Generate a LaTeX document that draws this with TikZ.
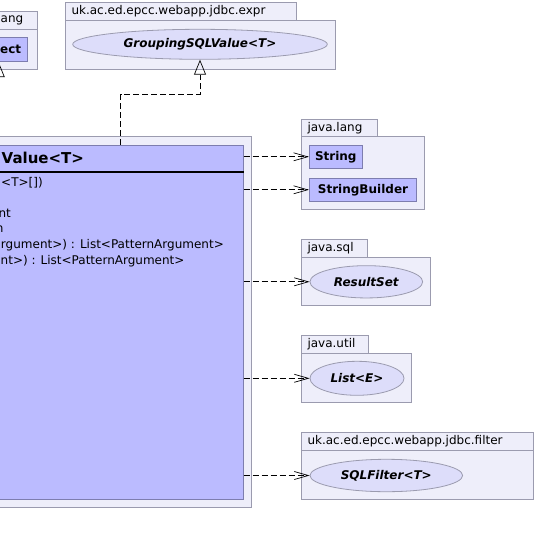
\documentclass[tikz,border=0pt]{standalone}
\usepackage{fontspec}
\setmainfont{DejaVu Sans}
\usepackage{xcolor}
\usepackage{tikz}
\usetikzlibrary{positioning,shapes.geometric,arrows.meta}
\definecolor{pkgfill}{RGB}{238,238,250}
\definecolor{pkgline}{RGB}{155,155,175}
\definecolor{clsfill}{RGB}{187,187,255}
\definecolor{clsline}{RGB}{125,125,175}
\definecolor{ifcfill}{RGB}{221,221,250}
\newcommand{\umlsize}{\fontsize{12}{14}\selectfont}
\newcommand{\umltitle}{\fontsize{15}{18}\selectfont\bfseries}
\tikzset{
    pkg/.style={draw=pkgline, fill=pkgfill, line width=0.8pt},
    pkglabel/.style={anchor=west, inner sep=0pt, font=\umlsize},
    dep/.style={draw=black, line width=0.7pt, dash pattern=on 6pt off 3pt, -{Straight Barb[length=14pt,width=8pt]}}
}
\begin{document}
\begin{tikzpicture}[x=1pt, y=-1pt,
        clsbox/.style={draw=clsline, fill=clsfill, line width=0.8pt, inner sep=0pt},
        boxnode/.style={draw=clsline, fill=clsfill, line width=0.8pt, inner sep=0pt, minimum height=23pt, font=\umlsize\bfseries},
        ifcnode/.style={ellipse, draw=pkgline, fill=ifcfill, line width=0.8pt, inner sep=0pt, font=\umlsize\bfseries\itshape},
        member/.style={anchor=west, inner sep=0pt, font=\umlsize},
        title/.style={anchor=west, inner sep=0pt, font=\umltitle},
        impl/.style={draw=black, line width=0.7pt, dash pattern=on 6pt off 3pt, -{Triangle[open, length=15pt, width=12pt]}},
        ext/.style={draw=black, line width=0.7pt, -{Triangle[open, length=15pt, width=12pt]}}
    ]
    \useasboundingbox (0,0) rectangle (536,545);
    \clip (0,0) rectangle (536,545);
    % --- java.lang (left, cut off) ---
    \draw[pkg] (-40,11.7) rectangle (37.3,29.3);
    \draw[pkg] (-40,29.3) rectangle (37.3,69.3);
    \node[pkglabel] (langlbl) at (0.5,20.5) {ang};
    \node[boxnode, minimum width=58pt, minimum height=24.4pt] (obj) at (-1.3,49.5) {};
    \node[member, font=\umlsize\bfseries] (objtxt) at (0,49.5) {ect};
    % --- uk.ac.ed.epcc.webapp.jdbc.expr ---
    \draw[pkg] (65.3,2.7) rectangle (296,20);
    \draw[pkg] (65.3,20) rectangle (335,69.3);
    \node[pkglabel] (exprlbl) at (71.3,11.3) {uk.ac.ed.epcc.webapp.jdbc.expr};
    \node[ifcnode, minimum width=254.6pt, minimum height=30pt] (grp) at (200,44.3) {GroupingSQLValue<T>};
    % --- class (cut off) ---
    \draw[pkg] (-260,136) rectangle (251.3,507);
    \node[clsbox, minimum width=495.3pt, minimum height=354pt] (cls) at (-4.35,322) {};
    \coordinate (hdr) at (0,171.7);
    \draw[line width=2pt] (cls.west |- hdr) -- (cls.east |- hdr);
    \node[title] (clsname) at (1.5,158.3) {Value<T>};
    \node[member] (m1) at (1,182.3) {<T>[])};
    \node[member] (m2) at (-1.6,213.3) {nt};
    \node[member] (m3) at (-4.3,229.3) {n};
    \node[member] (m4) at (0.8,245) {rgument>) : List<PatternArgument>};
    \node[member] (m5) at (0.5,260.7) {nt>) : List<PatternArgument>};
    % --- java.lang ---
    \draw[pkg] (301.3,119.3) rectangle (377.3,136);
    \draw[pkg] (301.3,136) rectangle (424.3,209);
    \node[pkglabel] (jllbl) at (307.3,127.7) {java.lang};
    \node[boxnode, minimum width=53pt] (str) at (335.8,156.8) {String};
    \node[boxnode, minimum width=107.4pt] (sb) at (363,189.8) {StringBuilder};
    % --- java.sql ---
    \draw[pkg] (301.3,239.3) rectangle (367.3,257);
    \draw[pkg] (301.3,257) rectangle (430.3,305);
    \node[pkglabel] (sqllbl) at (307.3,248.2) {java.sql};
    \node[ifcnode, minimum width=112.7pt, minimum height=32.3pt] (rs) at (366.3,281.8) {ResultSet};
    % --- java.util ---
    \draw[pkg] (301.3,335.3) rectangle (368.3,353.3);
    \draw[pkg] (301.3,353.3) rectangle (411.3,402);
    \node[pkglabel] (utillbl) at (307.3,344.3) {java.util};
    \node[ifcnode, minimum width=94pt, minimum height=34pt] (lst) at (357,378.3) {List<E>};
    % --- uk.ac.ed.epcc.webapp.jdbc.filter ---
    \draw[pkg] (301.3,432.5) rectangle (533.3,450);
    \draw[pkg] (301.3,450) rectangle (533.3,499);
    \node[pkglabel] (fltlbl) at (307.3,441.2) {uk.ac.ed.epcc.webapp.jdbc.filter};
    \node[ifcnode, minimum width=152.7pt, minimum height=32.4pt] (flt) at (386.3,475.5) {SQLFilter<T>};
    % --- connectors ---
    \coordinate (bend) at (120.7,94.3);
    \draw[impl] (cls.north -| bend) -- (bend) -| (grp.south);
    \draw[ext] (cls.north -| obj.south) -- (obj.south);
    \draw[dep] (cls.east |- str.west) -- (str.west);
    \draw[dep] (cls.east |- sb.west) -- (sb.west);
    \draw[dep] (cls.east |- rs.west) -- (rs.west);
    \draw[dep] (cls.east |- lst.west) -- (lst.west);
    \draw[dep] (cls.east |- flt.west) -- (flt.west);
\end{tikzpicture}
\end{document}
